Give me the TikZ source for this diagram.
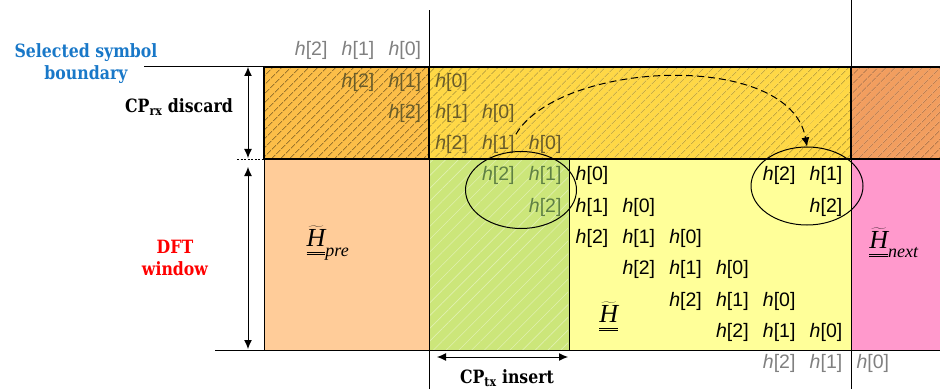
\documentclass[tikz,border=0pt]{standalone}
\usepackage{fontspec}
\newfontfamily\hfont{Liberation Sans}
\newfontfamily\labfont{DejaVu Serif}[FakeStretch=0.86]
\newfontfamily\matfont{Liberation Serif}
\usepackage{tikz}
\usetikzlibrary{arrows.meta, shapes.geometric, patterns.meta}

\definecolor{symblue}{RGB}{25,120,200}
\definecolor{dftred}{RGB}{255,0,0}
\definecolor{cpold}{RGB}{252,190,72}
\definecolor{cpcur}{RGB}{255,216,70}
\definecolor{cpnext}{RGB}{242,158,95}
\definecolor{prebg}{RGB}{255,204,153}
\definecolor{cptxbg}{RGB}{204,230,122}
\definecolor{curbg}{RGB}{255,255,153}
\definecolor{nextbg}{RGB}{255,153,204}
\definecolor{hgray}{RGB}{128,128,128}
\definecolor{hband}{RGB}{105,92,42}
\definecolor{hfade}{RGB}{95,128,68}

% channel matrix symbol with optional subscript
\newcommand{\chanmat}[1]{%
  $\underline{\underline{\widetilde{\mbox{\matfont\itshape H}}%
  \rule[-5pt]{0pt}{5pt}}}%
  _{\mbox{\matfont\itshape\fontsize{18}{18}\selectfont #1}}$}

\tikzset{
  >={Latex[length=9pt,width=8pt]},
  hlab/.style    = {font=\hfont\fontsize{19.5}{22}\selectfont, inner sep=1pt},
  tlab/.style    = {font=\labfont\bfseries\fontsize{18.3}{22}\selectfont,
                    align=center, inner sep=0pt},
  hmat/.style    = {font=\fontsize{26}{28}\selectfont, inner sep=0pt},
  hatch/.style   = {pattern={Lines[angle=45,distance=6.5pt,line width=0.8pt]}},
  dimarrow/.style = {<->, line width=1pt},
  window/.style  = {draw, ellipse, line width=1pt, inner sep=0pt},
}

\begin{document}
\begin{tikzpicture}[x=1pt, y=1pt]
  \useasboundingbox (0,0) rectangle (940,389);

  % ---------- DFT window band ----------------------------------------
  \filldraw[fill=prebg, line width=0.8pt] (264,39) rectangle (429,230);
  \filldraw[fill=cptxbg, line width=0.8pt] (429,39) rectangle (569,230);
  \fill[pattern={Lines[angle=45,distance=9pt,line width=0.6pt]},
        pattern color=cptxbg!60!white] (430,40) rectangle (568,229);
  \filldraw[fill=curbg, line width=0.8pt] (569,39) rectangle (851,230);
  \filldraw[fill=nextbg, line width=0.8pt] (851,39) rectangle (942,230);

  % ---------- CP_rx band (hatched) -----------------------------------
  \foreach \xa/\xb/\col in {264/429/cpold, 429/851/cpcur, 851/942/cpnext} {
    \fill[\col] (\xa,230) rectangle (\xb,322);
    \fill[hatch, pattern color=\col!62!black] (\xa,230) rectangle (\xb,322);
    \draw[line width=1.2pt] (\xa,230) rectangle (\xb,322);
  }

  % ---------- boundaries ---------------------------------------------
  \draw[line width=1pt] (144,322) -- (264,322);
  \draw[line width=1pt] (215,39) -- (264,39);
  \draw[line width=0.8pt, dash pattern=on 2pt off 1.5pt] (237,230) -- (264,230);
  \draw[line width=1pt] (429,0) -- (429,379);
  \draw[line width=1pt] (851,0) -- (851,389);

  % ---------- dimension arrows ---------------------------------------
  \coordinate (rxtop) at (248,322);
  \coordinate (rxbot) at (248,231);
  \coordinate (dfttop) at (248,222);
  \coordinate (dftbot) at (248,40);
  \coordinate (txleft) at (437,32);
  \coordinate (txright) at (568,32);
  \draw[dimarrow] (rxtop) -- (rxbot);
  \draw[dimarrow] (dfttop) -- (dftbot);
  \draw[dimarrow] (txleft) -- (txright);

  \node[tlab, text=symblue] (selbound) at (86,325) {Selected symbol\\boundary};
  \node[tlab] (cprx) at (179,282) {CP\textsubscript{rx} discard};
  \node[tlab, text=dftred] (dftwin) at (175,131) {DFT\\window};
  \node[tlab] (cptx) at (507,11) {CP\textsubscript{tx} insert};

  % ---------- channel taps, one row per sample -----------------------
  \foreach \r in {-1,...,9}
    \foreach \i/\n in {0/2,1/1,2/0} {
      \pgfmathtruncatemacro\k{\r+\i}
      \def\hcol{black}
      \ifnum\r<0 \def\hcol{hgray}\fi
      \ifnum\r>8 \def\hcol{hgray}\fi
      \ifnum\r>-1 \ifnum\r<3 \def\hcol{hband}\fi\fi
      \ifnum\r>2 \ifnum\r<5 \ifnum\k<5 \def\hcol{hfade}\fi\fi\fi
      \node[hlab, text=\hcol] (h\r-\k) at ({358+46.8*\k}, {307-31.3*\r})
        {\textit{h}[\n]};
    }
  % wrapped taps
  \foreach \r/\k/\n in {3/9/2, 3/10/1, 4/10/2}
    \node[hlab] (w\r-\k) at ({358+46.8*\k}, {307-31.3*\r}) {\textit{h}[\n]};

  % ---------- channel matrices ---------------------------------------
  \node[hmat] (hpre) at (328,146) {\chanmat{pre}};
  \node[hmat] (hcur) at (609,72) {\chanmat{}};
  \node[hmat] (hnext) at (894,146) {\chanmat{next}};

  % ---------- circular wrap ------------------------------------------
  \node[window, minimum width=111pt, minimum height=77pt] (cpsrc) at (521,199) {};
  \node[window, minimum width=112pt, minimum height=78pt] (cpdst) at (807,203) {};
  \draw[->, line width=1pt, dash pattern=on 7pt off 4pt]
    (h2-3.north east) .. controls (560,329) and (790,339) .. (cpdst.north);
\end{tikzpicture}
\end{document}
